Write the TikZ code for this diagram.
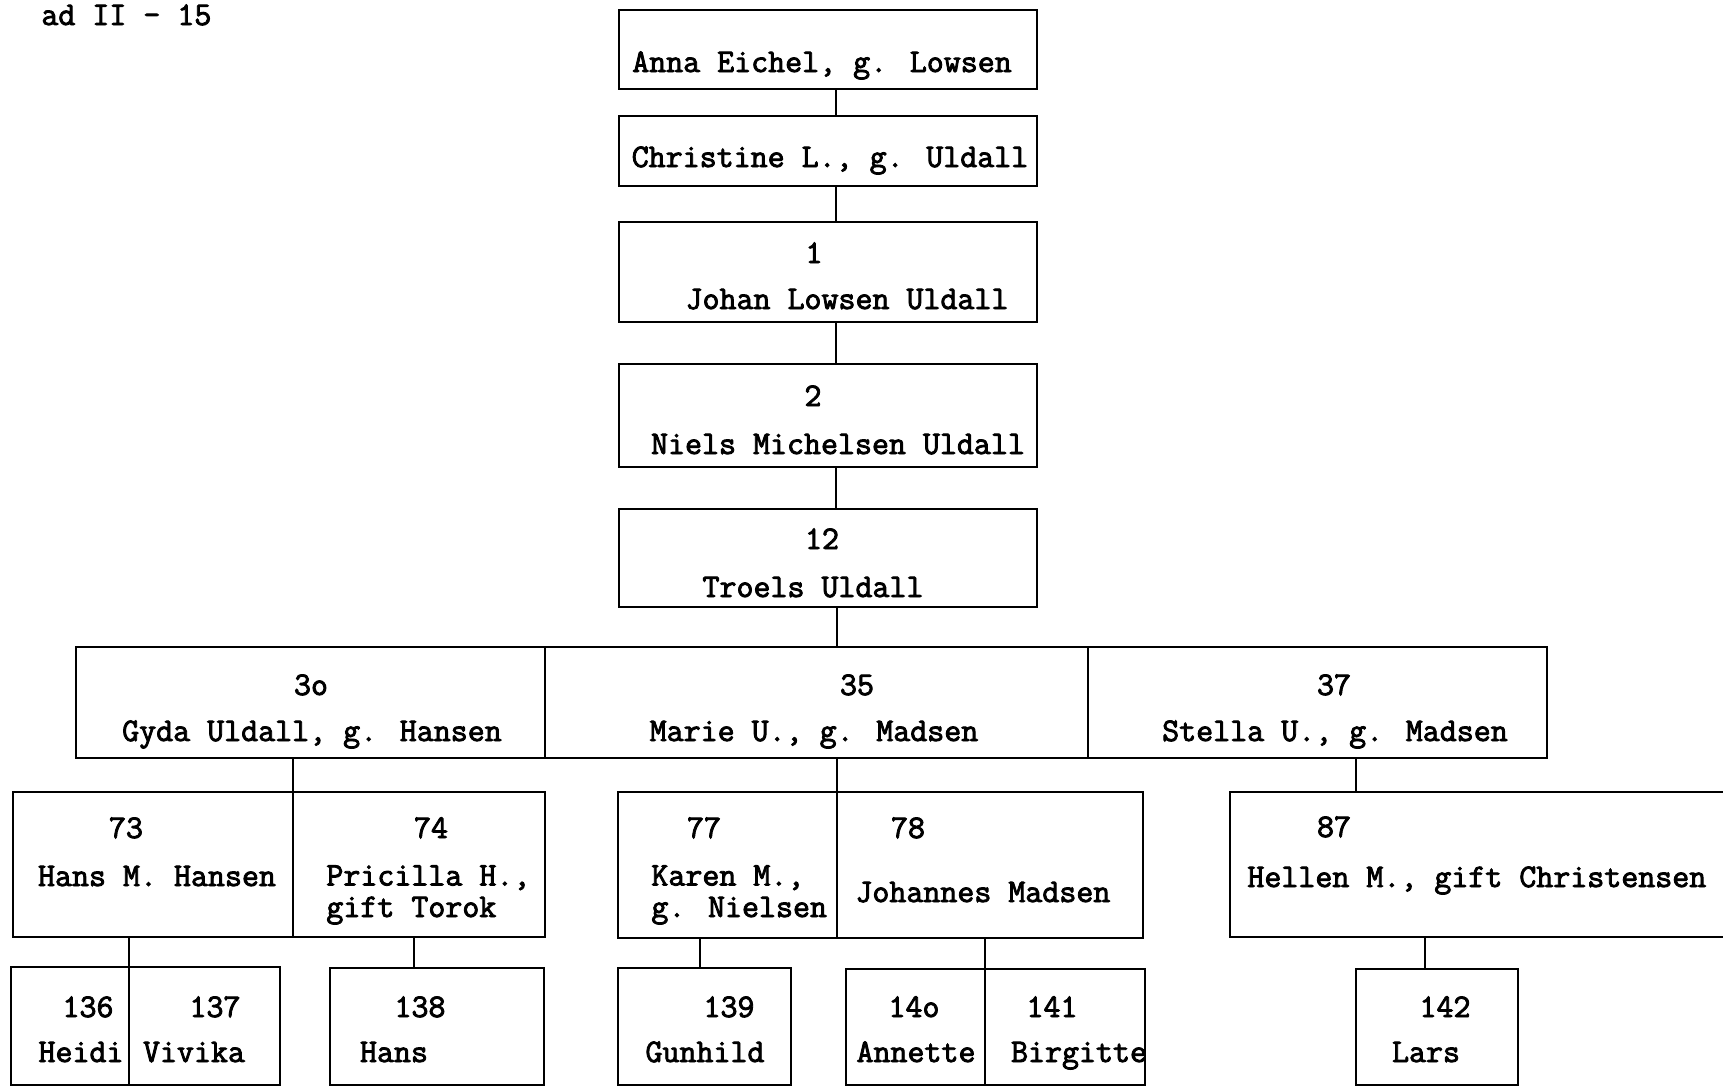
\documentclass[tikz,border=0pt]{standalone}
\usepackage{fontspec}
\newfontfamily\typew{Latin Modern Mono}[FakeBold=2.6]
\newcommand{\boxcell}[5]{\node[cell, minimum width={(#4-#2)*0.5pt}, minimum height={(#5-#3)*0.5pt}] (#1) at (#2,#3) {};}
\begin{document}
\begin{tikzpicture}[x=0.5pt,y=-0.5pt,
  cell/.style={draw, line width=1.2pt, inner sep=0pt, outer sep=0pt, anchor=north west},
  conn/.style={draw, line width=1.2pt},
  txt/.style={font=\fontsize{16.5}{18}\selectfont\typew, inner sep=0pt, anchor=base},
  ltxt/.style={txt, anchor=base west},
  mtxt/.style={font=\fontsize{16.5}{15.75}\selectfont\typew, inner sep=0pt, align=left, anchor=base west}]
\clip (0,0) rectangle (1723,1087);
\fill[white] (0,0) rectangle (1723,1087);

% header
\node[ltxt] (hdr) at (41,25) {ad II - 15};

% ancestor column
\boxcell{anna}{619}{10}{1037}{89}
\boxcell{christine}{619}{116}{1037}{186}
\boxcell{johan}{619}{222}{1037}{322}
\boxcell{niels}{619}{364}{1037}{467}
\boxcell{troels}{619}{509}{1037}{607}

\node[txt] (tanna) at (822,72) {Anna Eichel, g. Lowsen};
\node[txt] (tchristine) at (830,167) {Christine L., g. Uldall};
\node[txt] (n1) at (814,263) {1};
\node[txt] (tjohan) at (847,309) {Johan Lowsen Uldall};
\node[txt] (n2) at (813,406) {2};
\node[txt] (tniels) at (838,454) {Niels Michelsen Uldall};
\node[txt] (n12) at (822,549) {12};
\node[txt] (ttroels) at (813,597) {Troels Uldall};

% children row
\boxcell{gyda}{76}{647}{545}{758}
\boxcell{marie}{545}{647}{1088}{758}
\boxcell{stella}{1088}{647}{1547}{758}

\node[txt] (n30) at (311,695) {3o};
\node[txt] (tgyda) at (312,741) {Gyda Uldall, g. Hansen};
\node[txt] (n35) at (857,695) {35};
\node[txt] (tmarie) at (814,741) {Marie U., g. Madsen};
\node[txt] (n37) at (1334,695) {37};
\node[txt] (tstella) at (1335,741) {Stella U., g. Madsen};

% grandchildren row
\boxcell{hans73}{13}{792}{293}{937}
\boxcell{pricilla}{293}{792}{545}{937}
\boxcell{karen}{618}{792}{837}{938}
\boxcell{johannes}{837}{792}{1143}{938}
\boxcell{hellen}{1230}{792}{1780}{937}

\node[txt] (n73) at (126,838) {73};
\node[txt] (thans73) at (157,886) {Hans M. Hansen};
\node[txt] (n74) at (431,838) {74};
\node[mtxt] (tpric) at (326,917) {Pricilla H.,\\gift Torok};
\node[txt] (n77) at (704,838) {77};
\node[mtxt] (tkaren) at (651,917) {Karen M.,\\g. Nielsen};
\node[txt] (n78) at (908,838) {78};
\node[ltxt] (tjohannes) at (855,902) {Johannes Madsen};
\node[txt] (n87) at (1334,837) {87};
\node[ltxt] (thellen) at (1247,887) {Hellen M., gift Christensen};

% great-grandchildren row
\boxcell{heidi}{11}{967}{129}{1085}
\boxcell{vivika}{129}{967}{280}{1085}
\boxcell{hans138}{330}{968}{544}{1085}
\boxcell{gunhild}{618}{968}{791}{1085}
\boxcell{annette}{846}{969}{985}{1085}
\boxcell{birgitte}{985}{969}{1145}{1085}
\boxcell{lars}{1356}{969}{1518}{1085}

\node[txt] (n136) at (88,1017) {136};
\node[txt] (theidi) at (81,1062) {Heidi};
\node[txt] (n137) at (215,1017) {137};
\node[txt] (tvivika) at (194,1062) {Vivika};
\node[txt] (n138) at (420,1017) {138};
\node[txt] (thans138) at (394,1062) {Hans};
\node[txt] (n139) at (729,1017) {139};
\node[txt] (tgunhild) at (705,1062) {Gunhild};
\node[txt] (n140) at (914,1017) {14o};
\node[txt] (tannette) at (916,1062) {Annette};
\node[txt] (n141) at (1052,1017) {141};
\node[txt] (tbirgitte) at (1079,1062) {Birgitte};
\node[txt] (n142) at (1445,1017) {142};
\node[txt] (tlars) at (1426,1062) {Lars};

% connector x positions
\coordinate (cx) at (836,0);
\coordinate (cx138) at (414,0);
\coordinate (cx139) at (700,0);
\coordinate (cx142) at (1425,0);

% connectors
\draw[conn] (anna.south -| cx) -- (christine.north -| cx);
\draw[conn] (christine.south -| cx) -- (johan.north -| cx);
\draw[conn] (johan.south -| cx) -- (niels.north -| cx);
\draw[conn] (niels.south -| cx) -- (troels.north -| cx);
\draw[conn] (troels.south -| karen.north east) -- (marie.north -| karen.north east);

\draw[conn] (gyda.south -| hans73.north east) -- (hans73.north east);
\draw[conn] (marie.south -| karen.north east) -- (karen.north east);
\draw[conn] (stella.south -| lars.north west) -- (hellen.north -| lars.north west);

\draw[conn] (hans73.south -| heidi.north east) -- (heidi.north east);
\draw[conn] (pricilla.south -| cx138) -- (hans138.north -| cx138);
\draw[conn] (karen.south -| cx139) -- (gunhild.north -| cx139);
\draw[conn] (johannes.south -| annette.north east) -- (annette.north east);
\draw[conn] (hellen.south -| cx142) -- (lars.north -| cx142);
\end{tikzpicture}
\end{document}
